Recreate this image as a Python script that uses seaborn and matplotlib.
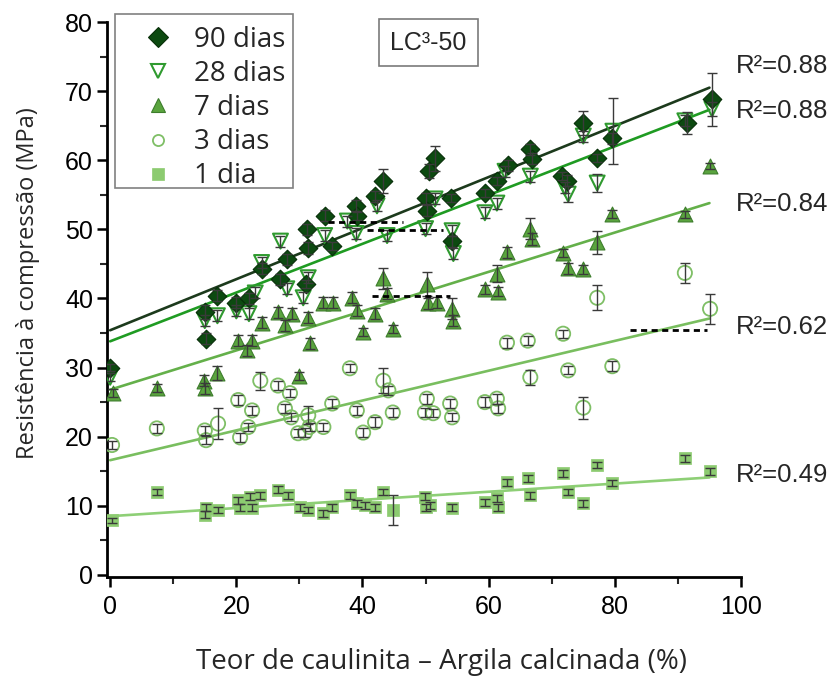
import matplotlib
matplotlib.use("Agg")
import matplotlib.pyplot as plt
from matplotlib.lines import Line2D
from matplotlib.patches import Rectangle
from matplotlib.ticker import MultipleLocator
import seaborn as sns

sns.set_theme(style="ticks")
plt.rcParams.update({
    "font.family": ["Liberation Sans", "DejaVu Sans"],
    "axes.linewidth": 2,
})

# --- data (x = kaolinite %, y = MPa, e = +/- error) ---
x90 = [0, 15, 15.2, 17, 20, 22, 24, 27, 28, 31, 31.2, 31.4, 34, 35.2, 39, 39.2, 42, 43.3,
       50, 50.2, 50.5, 51.5, 54, 54.2, 59.4, 61.3, 63, 66.6, 66.8, 71.6, 72.4, 75, 77.2,
       79.6, 91.4, 95.4]
y90 = [30, 38, 34.2, 40.4, 39.4, 40, 44.3, 42.8, 45.7, 42.1, 50, 47.3, 52, 47.6, 53.4,
       51.9, 54.8, 57, 54.5, 52.7, 58.4, 60.3, 54.5, 48.3, 55.3, 57, 59.3, 61.6, 60.2,
       57.7, 57, 65.4, 60.3, 63.2, 65.4, 68.8]
e90 = [0.5, 1.0, 0.8, 0.8, 0.8, 0.8, 0.8, 0.8, 0.8, 0.6, 0.8, 0.8, 0.8, 0.6, 0.8, 0.6,
       0.8, 1.8, 0.8, 0.8, 1.0, 1.8, 0.6, 0.8, 0.6, 0.6, 0.8, 0.8, 0.8, 0.6, 0.8, 1.7,
       0.6, 0.8, 1.6, 3.8]

x28 = [0, 15, 17, 20, 22, 23, 24, 27, 28, 30.6, 31.4, 34, 37.6, 39, 42.3, 43.9, 50,
       51.5, 54.2, 54.4, 59.4, 61.3, 62.6, 66.6, 72.1, 72.6, 75, 77.2, 79.7, 91.1, 95.4]
y28 = [28.6, 36.8, 37.5, 38.2, 37.8, 40.8, 45.2, 48.3, 41.4, 40.1, 43, 49.1, 51.2,
       49.4, 53.4, 49.1, 50.1, 54.4, 49.8, 46.5, 52.4, 53.8, 58.4, 57.7, 56, 55.1, 63.5,
       56.7, 64.2, 65.7, 67.4]
e28 = [0.6, 0.8, 0.8, 0.8, 0.8, 0.8, 0.8, 0.8, 0.8, 0.8, 0.8, 0.8, 0.8, 0.8, 0.8, 0.8,
       0.8, 0.8, 0.8, 0.8, 0.8, 0.8, 0.8, 0.8, 0.8, 1.2, 0.8, 1.3, 4.8, 0.8, 1.0]

x7 = [0.5, 7.4, 14.8, 15, 17, 20.3, 21.7, 22.5, 24, 26.6, 27.7, 28.8, 30, 31.4, 31.6,
      33.8, 35.3, 38.4, 39.1, 40.1, 42, 43.3, 43.9, 44.9, 50.2, 50.4, 51.8, 54.2, 54.4,
      59.4, 61.3, 61.5, 62.9, 66.6, 66.8, 71.8, 72.6, 75, 77.2, 79.6, 91.1, 95.1]
y7 = [26.3, 27, 28.1, 27, 29.2, 33.9, 32.5, 33.9, 36.5, 38, 36.1, 37.8, 28.8, 37.2,
      33.5, 39.4, 39.4, 40.1, 38.2, 35.1, 37.8, 42.9, 40.7, 35.6, 42.1, 39.3, 39.4,
      38.5, 36.8, 41.3, 43.6, 41, 46.7, 50.1, 48.6, 46.6, 44.4, 44.2, 48.1, 52.2, 52.2,
      59.2]
e7 = [0.6, 0.6, 0.8, 0.8, 1.0, 0.8, 0.8, 0.8, 0.8, 0.8, 0.8, 0.8, 0.6, 0.8, 0.8, 0.8,
      0.8, 0.8, 0.8, 0.6, 0.8, 1.5, 0.8, 0.6, 1.7, 0.8, 0.8, 1.5, 0.8, 0.6, 1.2, 0.6,
      0.8, 1.5, 0.8, 0.6, 0.8, 0.6, 1.6, 0.6, 0.5, 0.4]

x3 = [0.3, 7.4, 15, 15.2, 17.1, 20.3, 20.6, 21.9, 22.5, 23.8, 26.6, 27.7, 28.5, 28.7,
      29.8, 30.9, 31.4, 31.6, 33.8, 35.2, 38, 39.1, 40.1, 42, 43.3, 44.1, 44.8, 49.9,
      50.2, 51.2, 53.9, 54.2, 59.4, 61.3, 61.5, 62.9, 66.2, 66.6, 71.8, 72.6, 75, 77.2,
      79.6, 91.1, 95.1]
y3 = [18.8, 21.2, 20.9, 19.5, 21.9, 25.3, 19.9, 21.4, 23.8, 28.1, 27.4, 24.1, 26.3,
      22.8, 20.5, 20.6, 23.1, 21.4, 21.4, 24.8, 29.9, 23.8, 20.6, 22.1, 28.1, 26.7,
      23.5, 23.5, 25.5, 23.4, 24.8, 22.8, 25, 25.5, 24.1, 33.6, 33.9, 28.6, 34.9, 29.6,
      24.2, 40.1, 30.2, 43.7, 38.5]
e3 = [0.6, 0.6, 0.6, 0.6, 2.2, 0.7, 0.6, 0.6, 0.7, 1.3, 0.7, 0.7, 0.6, 0.6, 0.6, 0.6,
      1.3, 0.6, 0.6, 0.7, 0.6, 0.7, 0.6, 0.7, 1.8, 0.6, 0.7, 0.7, 0.7, 0.6, 0.6, 0.6,
      0.7, 0.7, 0.7, 0.7, 0.7, 1.1, 0.6, 0.6, 1.6, 1.8, 0.7, 1.4, 2.2]

x1 = [0.3, 7.4, 15, 15.2, 17.1, 20.3, 20.6, 22.2, 22.5, 23.8, 26.6, 28.2, 30.1, 31.4,
      33.8, 35.2, 38, 39.1, 40.4, 42, 43.3, 44.8, 49.9, 50.1, 50.7, 54.2, 59.4, 61.3,
      61.5, 62.9, 66.2, 66.6, 71.8, 72.6, 75, 77.2, 79.6, 91.1, 95.1]
y1 = [7.9, 12, 8.7, 9.7, 9.4, 10.8, 9.7, 11.3, 9.7, 11.5, 12.3, 11.5, 9.8, 9.4, 8.9,
      9.8, 11.5, 10.4, 10.1, 9.8, 12, 9.4, 11.3, 9.8, 10.1, 9.7, 10.5, 11.1, 9.8, 13.4,
      14, 11.5, 14.7, 12, 10.4, 15.9, 13.3, 16.9, 15]
e1 = [0.4, 0.5, 0.5, 0.5, 0.5, 0.5, 0.5, 0.5, 0.5, 0.5, 0.5, 0.5, 0.5, 0.5, 0.5, 0.5,
      0.5, 0.5, 0.5, 0.5, 0.5, 2.2, 0.5, 0.5, 0.5, 0.5, 0.5, 0.5, 0.5, 0.5, 0.5, 0.5,
      0.5, 0.5, 0.5, 0.5, 0.5, 0.5, 0.5]

# linear fits: values at the two ends of each drawn line
fit_x = [0, 95]
fit90 = [35.4, 70.5]
fit28 = [33.8, 67.3]
fit7 = [26.8, 53.8]
fit3 = [16.6, 37.1]
fit1 = [8.5, 14.1]

r2_labels = ["R²=0.88", "R²=0.88", "R²=0.84", "R²=0.62", "R²=0.49"]
r2_y = [73.6, 67.1, 53.7, 35.8, 14.4]

# dashed reference segments
dash_x0 = [34.5, 40.7, 41.5, 82.4]
dash_x1 = [46.4, 52.8, 53.9, 94.6]
dash_y = [51.0, 49.9, 40.3, 35.5]

series = {
    "90 dias": (x90, y90, e90, fit90),
    "28 dias": (x28, y28, e28, fit28),
    "7 dias": (x7, y7, e7, fit7),
    "3 dias": (x3, y3, e3, fit3),
    "1 dia": (x1, y1, e1, fit1),
}
styles = {
    "90 dias": dict(marker="D", s=90, fc="#0c4a10", ec="#072e08", lw=0.8, line="#1c3a1c", ms=10.5),
    "28 dias": dict(marker="v", s=115, fc="none", ec="#2f9a2f", lw=1.5, line="#1f9b22", ms=10),
    "7 dias": dict(marker="^", s=115, fc="#5aa43e", ec="#3d7d2c", lw=0.8, line="#64b04a", ms=10),
    "3 dias": dict(marker="o", s=105, fc="none", ec="#7fbf66", lw=1.3, line="#79be5f", ms=8),
    "1 dia": dict(marker="s", s=70, fc="#8ccb70", ec="#8ccb70", lw=0.5, line="#8ecf76", ms=8.5),
}

fig = plt.figure(figsize=(8.31, 6.82), dpi=100)
ax = fig.add_axes([107 / 831, 1 - 577 / 682, 634 / 831, 555 / 682])

for name in ["1 dia", "3 dias", "7 dias", "28 dias", "90 dias"]:
    xs, ys, es, fit = series[name]
    st = styles[name]
    ax.plot(fit_x, fit, color=st["line"], lw=1.9, zorder=2)
    sns.scatterplot(x=xs, y=ys, marker=st["marker"], s=st["s"], facecolor=st["fc"],
                    edgecolor=st["ec"], linewidth=st["lw"], ax=ax, zorder=3, legend=False)
    ax.errorbar(xs, ys, yerr=es, fmt="none", ecolor="#3a3a3a", elinewidth=1,
                capsize=3.5, capthick=1, zorder=4)

ax.hlines(dash_y, dash_x0, dash_x1, colors="black", linestyles=(0, (2.2, 1.6)),
          linewidth=2, zorder=5)

ax.set_xlim(-0.5, 100)
ax.set_ylim(-0.3, 80)
ax.xaxis.set_major_locator(MultipleLocator(20))
ax.xaxis.set_minor_locator(MultipleLocator(10))
ax.yaxis.set_major_locator(MultipleLocator(10))
ax.yaxis.set_minor_locator(MultipleLocator(5))
ax.tick_params(which="major", direction="out", length=7, width=1.8, labelsize=18,
               colors="black")
ax.tick_params(which="minor", direction="out", length=5, width=1.5)
ax.tick_params(axis="x", pad=6)
ax.tick_params(axis="y", pad=3)
for sp in ["top", "right"]:
    ax.spines[sp].set_visible(False)
for sp in ["left", "bottom"]:
    ax.spines[sp].set_color("black")

for lab, yy in zip(r2_labels, r2_y):
    ax.text(99.2, yy, lab, fontsize=18.5, ha="left", va="center", clip_on=False)

ax.text(50.4, 77, "LC³-50", fontsize=18, ha="center", va="center", clip_on=False,
        bbox=dict(boxstyle="square,pad=0.45", fc="white", ec="#7a7a7a", lw=1.2))

handles = []
labels = []
for name in ["90 dias", "28 dias", "7 dias", "3 dias", "1 dia"]:
    st = styles[name]
    handles.append(Line2D([], [], linestyle="none", marker=st["marker"], markersize=st["ms"],
                          markerfacecolor=st["fc"], markeredgecolor=st["ec"],
                          markeredgewidth=st["lw"]))
    labels.append(name)
ax.legend(handles, labels, loc="upper left", bbox_to_anchor=(144 / 831, 1 - 26 / 682),
          bbox_transform=fig.transFigure, prop={"family": "Open Sans", "size": 20},
          frameon=False, borderpad=0, handlelength=1.0, handletextpad=0.8,
          labelspacing=0.22, borderaxespad=0)
fig.add_artist(Rectangle((115 / 831, 1 - 188 / 682), 178 / 831, 174 / 682,
                         transform=fig.transFigure, fill=False, ec="#808080", lw=1.2))

fig.text(442 / 831, 1 - 662 / 682, "Teor de caulinita – Argila calcinada (%)",
         family="Open Sans", fontsize=20, ha="center", va="center")
fig.text(28 / 831, 1 - 283 / 682, "Resistência à compressão (MPa)",
         family="Open Sans", fontsize=17, ha="center", va="center", rotation=90)

fig.savefig("out.png", dpi=100)
